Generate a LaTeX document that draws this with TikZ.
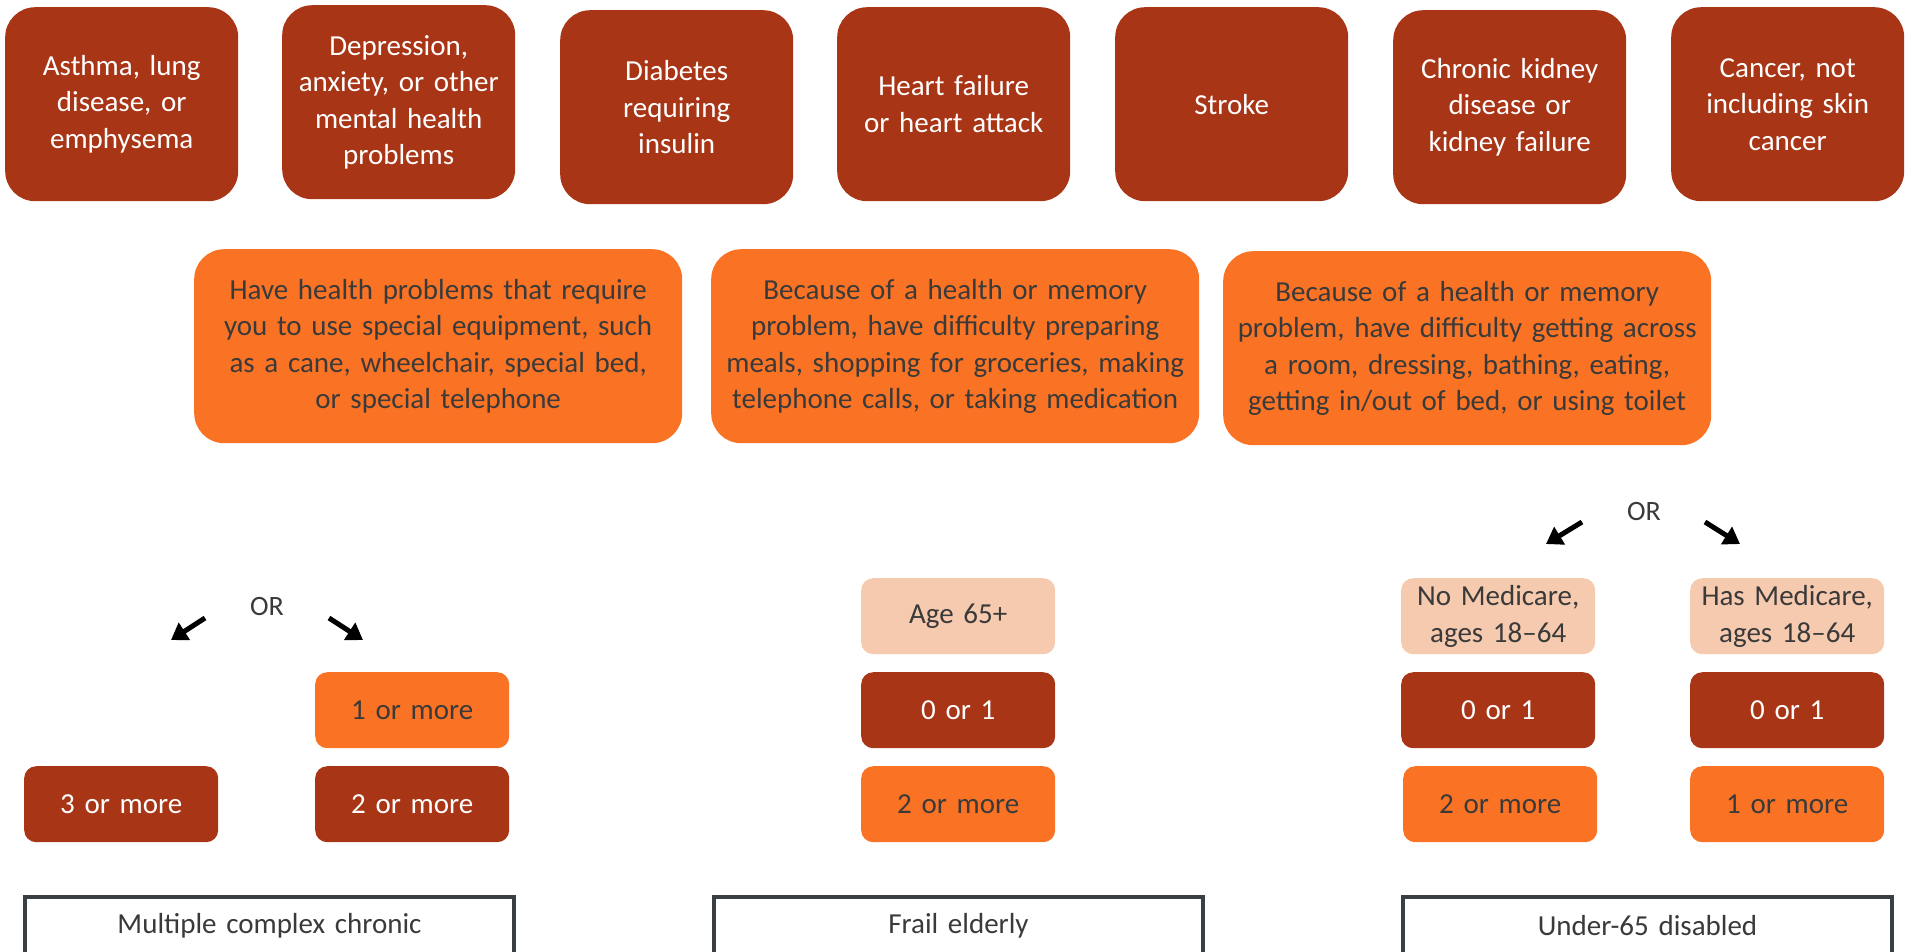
\documentclass[tikz,border=0pt]{standalone}
\usepackage{fontspec}
\setmainfont{Carlito}
\usetikzlibrary{arrows.meta}
\definecolor{cRed}{HTML}{A83516}
\definecolor{cOrange}{HTML}{FA7324}
\definecolor{cPeach}{HTML}{F6CAAE}
\definecolor{cText}{HTML}{3A3A3A}
\definecolor{cBorder}{HTML}{3A3F44}
\tikzset{
  base/.style={align=center, inner sep=0pt, anchor=north west, font=\fontsize{29}{36.5}\selectfont},
  topbox/.style={base, fill=cRed, text=white, minimum width=233pt, minimum height=194pt, text width=225pt, rounded corners=30pt},
  midbox/.style={base, fill=cOrange, text=cText, minimum width=488pt, minimum height=194pt, text width=470pt, rounded corners=30pt},
  smallbox/.style={base, minimum width=194pt, minimum height=76pt, text width=190pt, rounded corners=12pt},
  redbox/.style={smallbox, fill=cRed, text=white},
  orbox/.style={smallbox, fill=cOrange, text=cText},
  pchbox/.style={smallbox, fill=cPeach, text=cText},
  labelbox/.style={base, draw=cBorder, line width=4pt, fill=white, text=cText, minimum width=489pt, minimum height=58pt, text width=480pt},
  ortext/.style={font=\fontsize{28}{34}\selectfont, text=cText, inner sep=0pt},
  bigarrow/.style={line width=5pt, -{Triangle[length=16pt,width=20pt]}, black}
}
\begin{document}
\begin{tikzpicture}[x=1pt, y={(0pt,-1pt)}]
\useasboundingbox (0,0) rectangle (1912,951);
\clip (0,0) rectangle (1912,951);
% top row
\node[topbox] (t1) at (5,7) {Asthma, lung\\disease, or\\emphysema};
\node[topbox] (t2) at (282,5) {Depression,\\anxiety, or other\\mental health\\problems};
\node[topbox] (t3) at (560,10) {Diabetes\\requiring\\insulin};
\node[topbox] (t4) at (837,7) {Heart failure\\or heart attack};
\node[topbox] (t5) at (1115,7) {Stroke};
\node[topbox] (t6) at (1393,10) {Chronic kidney\\disease or\\kidney failure};
\node[topbox] (t7) at (1671,7) {Cancer, not\\including skin\\cancer};
% middle row
\node[midbox] (m1) at (194,249) {Have health problems that require\\you to use special equipment, such\\as a cane, wheelchair, special bed,\\or special telephone};
\node[midbox] (m2) at (711,249) {Because of a health or memory\\problem, have difficulty preparing\\meals, shopping for groceries, making\\telephone calls, or taking medication};
\node[midbox] (m3) at (1223,251) {Because of a health or memory\\problem, have difficulty getting across\\a room, dressing, bathing, eating,\\getting in/out of bed, or using toilet};
% OR left
\node[ortext] (or1) at (267,607) {OR};
\coordinate (a1s) at (205,618);
\coordinate (a1e) at (171,640);
\coordinate (a2s) at (329,618);
\coordinate (a2e) at (363,640);
\draw[bigarrow] (a1s) -- (a1e);
\draw[bigarrow] (a2s) -- (a2e);
% OR right
\node[ortext] (or2) at (1644,512) {OR};
\coordinate (b1s) at (1582,522);
\coordinate (b1e) at (1546,544);
\coordinate (b2s) at (1705,522);
\coordinate (b2e) at (1740,544);
\draw[bigarrow] (b1s) -- (b1e);
\draw[bigarrow] (b2s) -- (b2e);
% bottom boxes left group
\node[orbox] (l1) at (315,672) {1 or more};
\node[redbox] (l2) at (24,766) {3 or more};
\node[redbox] (l3) at (315,766) {2 or more};
% middle group
\node[pchbox] (c1) at (861,578) {Age 65+};
\node[redbox] (c2) at (861,672) {0 or 1};
\node[orbox] (c3) at (861,766) {2 or more};
% right group
\node[pchbox] (r1) at (1401,578) {No Medicare,\\ages 18–64};
\node[redbox] (r2) at (1401,672) {0 or 1};
\node[orbox] (r3) at (1403,766) {2 or more};
\node[pchbox] (s1) at (1690,578) {Has Medicare,\\ages 18–64};
\node[redbox] (s2) at (1690,672) {0 or 1};
\node[orbox] (s3) at (1690,766) {1 or more};
% labels
\node[labelbox] (g1) at (23,895) {Multiple complex chronic};
\node[labelbox] (g2) at (712,895) {Frail elderly};
\node[labelbox] (g3) at (1401,895) {Under-65 disabled};
\end{tikzpicture}
\end{document}
